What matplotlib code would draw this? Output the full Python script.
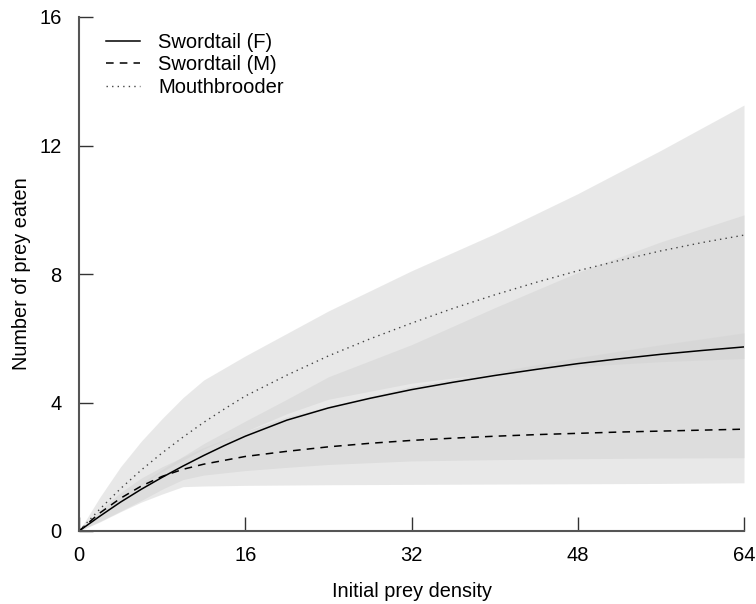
import matplotlib
matplotlib.use("Agg")
import matplotlib.pyplot as plt
import numpy as np

plt.rcParams['font.family'] = ['Liberation Sans', 'DejaVu Sans']

# Fitted curves
x_curve = [0, 2, 4, 6, 8, 10, 12, 14, 16, 20, 24, 28, 32, 36, 40, 44, 48, 52, 56, 60, 64]
swordtail_f = [0, 0.46, 0.90, 1.30, 1.67, 2.02, 2.35, 2.66, 2.95, 3.45, 3.83, 4.13, 4.40, 4.63, 4.84, 5.03, 5.21, 5.36, 5.50, 5.62, 5.73]
swordtail_m = [0, 0.56, 1.02, 1.40, 1.70, 1.92, 2.08, 2.20, 2.32, 2.48, 2.62, 2.73, 2.82, 2.89, 2.95, 3.00, 3.04, 3.08, 3.11, 3.14, 3.17]
mouthbrooder = [0, 0.68, 1.32, 1.90, 2.43, 2.92, 3.38, 3.80, 4.20, 4.85, 5.45, 5.98, 6.47, 6.93, 7.35, 7.74, 8.10, 8.42, 8.72, 8.98, 9.21]

# Confidence bands
x_band = [0, 2, 4, 6, 8, 10, 12, 16, 20, 24, 32, 40, 48, 56, 64]
mb_upper = [0, 1.05, 2.00, 2.80, 3.50, 4.15, 4.70, 5.45, 6.15, 6.85, 8.10, 9.25, 10.50, 11.85, 13.26]
mb_lower = [0, 0.50, 0.98, 1.45, 1.85, 2.20, 2.55, 3.10, 3.65, 4.10, 4.60, 4.92, 5.12, 5.27, 5.37]
sf_upper = [0, 0.52, 1.02, 1.48, 1.92, 2.32, 2.72, 3.42, 4.10, 4.80, 5.80, 6.95, 8.05, 9.00, 9.84]
sf_lower = [0, 0.30, 0.62, 0.95, 1.30, 1.60, 1.74, 1.88, 1.98, 2.07, 2.18, 2.22, 2.25, 2.27, 2.28]
sm_upper = [0, 0.65, 1.20, 1.65, 2.00, 2.30, 2.60, 3.10, 3.55, 3.88, 4.50, 4.95, 5.40, 5.80, 6.17]
sm_lower = [0, 0.28, 0.60, 0.90, 1.15, 1.38, 1.40, 1.42, 1.43, 1.44, 1.45, 1.46, 1.47, 1.48, 1.50]

labels = ['Swordtail (F)', 'Swordtail (M)', 'Mouthbrooder']
x_ticks = [0, 16, 32, 48, 64]
y_ticks = [0, 4, 8, 12, 16]

fig = plt.figure(figsize=(7.56, 6.04), dpi=100)
ax = fig.add_axes([79/756, 1 - 531/604, (744 - 79)/756, (531 - 17)/604])

band_color = '#d3d3d3'
for lo, hi in [(mb_lower, mb_upper), (sf_lower, sf_upper), (sm_lower, sm_upper)]:
    ax.fill_between(x_band, lo, hi, color=band_color, alpha=0.5, lw=0)

ax.plot(x_curve, swordtail_f, color='black', lw=1.1, ls='-', label=labels[0])
ax.plot(x_curve, swordtail_m, color='black', lw=1.1, ls=(0, (5, 4)), label=labels[1])
ax.plot(x_curve, mouthbrooder, color='#444444', lw=1.0, ls=(0, (1, 3)), label=labels[2])

ax.set_xlim(0, 64)
ax.set_ylim(0, 16)
ax.set_xticks(x_ticks)
ax.set_yticks(y_ticks)
for s in ['top', 'right']:
    ax.spines[s].set_visible(False)
for s in ['left', 'bottom']:
    ax.spines[s].set_color('#555555')
    ax.spines[s].set_linewidth(1.5)
ax.tick_params(direction='in', length=10, width=1, color='#333333', labelsize=14.5)
ax.tick_params(axis='x', pad=11)
ax.tick_params(axis='y', pad=12.5)

ax.set_xlabel('Initial prey density', fontsize=14.3, labelpad=12)
ax.set_ylabel('Number of prey eaten', fontsize=14.3, labelpad=6)

leg = ax.legend(loc='upper left', bbox_to_anchor=(0.013, 1.004), frameon=False,
                fontsize=14.5, handlelength=1.7, handletextpad=0.9, labelspacing=0.17)

fig.savefig('out.png', dpi=100)
